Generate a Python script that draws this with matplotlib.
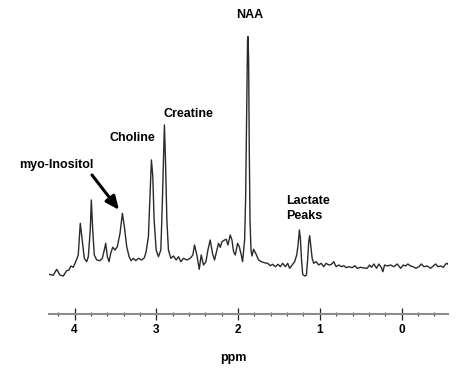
import matplotlib.pyplot as plt
from matplotlib.ticker import MultipleLocator

# spectrum: chemical shift (ppm) and signal (a.u.)
ppm = [4.314, 4.261, 4.219, 4.179, 4.138, 4.097, 4.069, 4.044, 4.016, 3.974,
       3.955, 3.930, 3.906, 3.881, 3.852, 3.832, 3.808, 3.795, 3.778, 3.759,
       3.729, 3.689, 3.661, 3.636, 3.619, 3.599, 3.578, 3.558, 3.533, 3.505,
       3.477, 3.444, 3.415, 3.391, 3.362, 3.333, 3.309, 3.281, 3.251, 3.219,
       3.178, 3.146, 3.125, 3.097, 3.076, 3.060, 3.043, 3.027, 3.002, 2.974,
       2.945, 2.929, 2.913, 2.901, 2.888, 2.871, 2.852, 2.822, 2.790, 2.757,
       2.729, 2.700, 2.668, 2.626, 2.586, 2.553, 2.533, 2.504, 2.475, 2.451,
       2.423, 2.393, 2.369, 2.341, 2.313, 2.288, 2.259, 2.239, 2.218, 2.197,
       2.165, 2.145, 2.124, 2.096, 2.075, 2.055, 2.034, 2.006, 1.985, 1.961,
       1.945, 1.920, 1.908, 1.896, 1.884, 1.879, 1.871, 1.863, 1.854, 1.842,
       1.830, 1.810, 1.781, 1.749, 1.707, 1.667, 1.638, 1.605, 1.577, 1.544,
       1.511, 1.483, 1.455, 1.422, 1.393, 1.369, 1.339, 1.308, 1.283, 1.266,
       1.250, 1.238, 1.225, 1.210, 1.185, 1.164, 1.148, 1.136, 1.124, 1.112,
       1.094, 1.075, 1.045, 1.013, 0.984, 0.952, 0.923, 0.891, 0.858, 0.830,
       0.800, 0.768, 0.735, 0.707, 0.678, 0.646, 0.604, 0.572, 0.543, 0.502,
       0.462, 0.420, 0.392, 0.368, 0.339, 0.306, 0.278, 0.249, 0.229, 0.208,
       0.175, 0.135, 0.094, 0.053, 0.012, -0.021, -0.049, -0.077, -0.110, -0.143,
       -0.172, -0.212, -0.241, -0.273, -0.315, -0.355, -0.388, -0.417, -0.445, -0.478,
       -0.511, -0.539, -0.560, -0.580]
signal = [0.7, -0.3, 5.7, 0, -1, 4.3, 5, 9, 7.7, 15.7,
          20, 51.7, 35, 16.7, 13.3, 18.3, 45, 75, 45, 20,
          15, 14.3, 16.7, 25, 31.7, 18.3, 13.3, 21.7, 27.7, 25,
          28.3, 41.7, 61.7, 48.3, 28.3, 18.3, 14.3, 16.7, 14.3, 16.7,
          15, 17.3, 23.3, 38.3, 81.7, 115, 98.3, 55, 25, 18.3,
          25, 65, 115, 150, 115, 55, 25, 16.7, 19, 15,
          18.3, 13.3, 16.7, 15, 16.7, 20, 30, 20, 5.7, 20,
          10, 13.3, 25, 35, 21.7, 15, 25, 31.7, 27.7, 33.3,
          35, 35.7, 30, 40, 35, 23.3, 20, 31.7, 28.3, 20,
          13.3, 35, 75, 155, 235, 238.3, 215, 125, 55, 25,
          19, 25.7, 21, 15, 13, 12, 11.7, 9.3, 10.7, 8.3,
          10.7, 8.3, 11.7, 8.3, 11.7, 6.7, 10, 13.3, 20, 30,
          45, 36.7, 16.7, 0.7, -1, 0, 16.7, 33.3, 39.3, 30,
          16.7, 11.7, 13.3, 10, 11.7, 8.3, 11.7, 10, 10.7, 13.3,
          8.3, 10, 8.3, 9.3, 7.3, 8.3, 7.3, 9.3, 6.7, 7.7,
          7, 6.7, 10, 7.7, 11, 6.7, 11, 7.7, 3.3, 10,
          9, 10, 8.3, 11, 6.7, 10, 9, 11, 9, 8.3,
          6.7, 8.3, 11, 8.3, 9, 6.7, 9, 11, 8.3, 9,
          7.7, 11, 11.7, 9]

plt.rcParams['font.family'] = ['Liberation Sans', 'DejaVu Sans']

fig = plt.figure(figsize=(4.57, 3.69), dpi=100)
ax = fig.add_axes([0.107, 0.149, 0.873, 0.770])

ax.plot(ppm, signal, color='#2a2a2a', lw=1.0)
ax.set_xlim(4.314, -0.566)
ax.set_ylim(-39, 245)

for s in ['left', 'top', 'right']:
    ax.spines[s].set_visible(False)
ax.spines['bottom'].set_color('#8c8c8c')
ax.spines['bottom'].set_linewidth(1.5)
ax.set_yticks([])
ax.xaxis.set_major_locator(MultipleLocator(1))
ax.xaxis.set_minor_locator(MultipleLocator(0.2))
ax.tick_params(axis='x', which='major', direction='inout', length=8, width=0.9,
               color='#222222', pad=3, labelsize=8.5)
ax.tick_params(axis='x', which='minor', direction='inout', length=3, width=0.8,
               color='#444444')
for lab in ax.get_xticklabels():
    lab.set_fontweight('bold')

ax.set_xlabel('ppm', fontsize=9, fontweight='bold')
ax.xaxis.set_label_coords((233 - 49) / 399, -0.135)

# peak labels
ax.text(1.863, 260, 'NAA', ha='center', va='center', fontsize=9, fontweight='bold')
ax.text(2.610, 161, 'Creatine', ha='center', va='center', fontsize=9, fontweight='bold')
ax.text(3.297, 137, 'Choline', ha='center', va='center', fontsize=9, fontweight='bold')
ax.text(4.228, 110, 'myo-Inositol', ha='center', va='center', fontsize=9, fontweight='bold')
ax.text(1.409, 74, 'Lactate', ha='left', va='center', fontsize=9, fontweight='bold')
ax.text(1.409, 59, 'Peaks', ha='left', va='center', fontsize=9, fontweight='bold')

ax.annotate('', xy=(3.456, 65), xytext=(3.787, 100),
            arrowprops=dict(arrowstyle='-|>,head_length=0.8,head_width=0.35',
                            color='black', lw=2.2, shrinkA=0, shrinkB=0))

fig.savefig('out.png', dpi=100)
